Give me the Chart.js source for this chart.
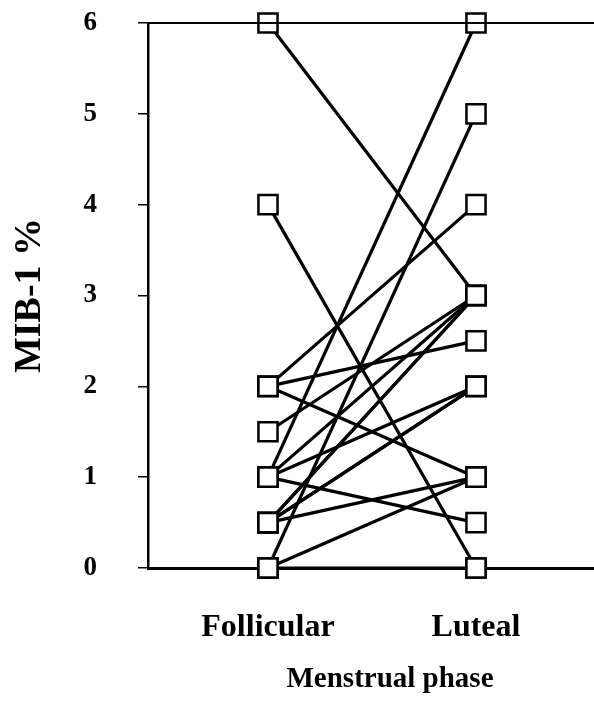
<!DOCTYPE html>
<html>
<head>
<meta charset="utf-8">
<script src="https://cdn.jsdelivr.net/npm/chart.js@4.4.0/dist/chart.umd.min.js"></script>
<style>
    html, body { margin: 0; padding: 0; background: #fff; overflow: hidden; }
    /* the frame runs off the right edge of the picture, so the canvas is wider than the window */
    #wrap { width: 632px; height: 704px; }
</style>
</head>
<body>
<div id="wrap"><canvas id="chart"></canvas></div>
<script>
// phases on the x axis
var phases = ["Follicular", "Luteal"];
// one entry per patient: MIB-1 % in each phase
var follicular = [6, 4, 2, 2, 2, 1.5, 1, 1, 1, 1, 0.5, 0.5, 0.5, 0.5, 0.5, 0, 0, 0];
var luteal     = [3, 0, 4, 2.5, 1, 3, 6, 0.5, 3, 2, 3, 3, 2, 2, 1, 5, 1, 0];
var yTicks = [0, 1, 2, 3, 4, 5, 6];

var serif = "'Liberation Serif', 'Times New Roman', serif";

var datasets = [];
var allPoints = [];
for (var i = 0; i < follicular.length; i++) {
    datasets.push({
        type: 'line',
        data: [{x: 1, y: follicular[i]}, {x: 2, y: luteal[i]}],
        borderColor: '#000',
        borderWidth: 3.2,
        pointRadius: 0,
        fill: false,
        clip: false,
        order: 1
    });
    allPoints.push({x: 1, y: follicular[i]});
    allPoints.push({x: 2, y: luteal[i]});
}
// boxes drawn on top of the lines
datasets.push({
    type: 'scatter',
    data: allPoints,
    pointStyle: 'rect',
    pointRadius: 13.5,
    pointBackgroundColor: '#fff',
    pointBorderColor: '#000',
    pointBorderWidth: 2.5,
    showLine: false,
    clip: false,
    order: 0
});

// top frame line
var topLine = {
    id: 'topLine',
    afterDraw: function (chart) {
        var a = chart.chartArea, ctx = chart.ctx;
        ctx.save();
        ctx.strokeStyle = '#000';
        ctx.lineWidth = 2;
        ctx.beginPath();
        ctx.moveTo(a.left, a.top);
        ctx.lineTo(a.right, a.top);
        ctx.stroke();
        ctx.restore();
    }
};

chartMib = new Chart(document.getElementById("chart"), {
    type: 'line',
    data: { datasets: datasets },
    plugins: [topLine],
    options: {
        responsive: true,
        maintainAspectRatio: false,
        animation: false,
        layout: { autoPadding: false, padding: 0 },
        plugins: {
            legend: { display: false },
            tooltip: { enabled: false }
        },
        scales: {
            x: {
                type: 'linear',
                min: 0.4232,
                max: 2.75,
                afterBuildTicks: function (scale) {
                    scale.ticks = [{value: 1}, {value: 2}];
                },
                afterFit: function (scale) { scale.height = 136; },
                grid: { display: false },
                border: { display: true, color: '#000', width: 3 },
                ticks: {
                    color: '#000',
                    padding: 33,
                    font: { family: serif, size: 32, weight: 'bold' },
                    callback: function (v) { return phases[v - 1]; }
                },
                title: {
                    display: true,
                    text: 'Menstrual phase',
                    color: '#000',
                    padding: { top: 0, bottom: 7 },
                    font: { family: serif, size: 29, weight: 'bold' }
                }
            },
            y: {
                min: 0,
                max: 6,
                afterBuildTicks: function (scale) {
                    scale.ticks = yTicks.map(function (v) { return {value: v}; });
                },
                afterFit: function (scale) {
                    scale.width = 148;
                    scale.paddingTop = 23;
                    scale.paddingBottom = 0;
                },
                grid: {
                    drawOnChartArea: false,
                    drawTicks: true,
                    tickLength: 10,
                    color: '#000',
                    lineWidth: 1.5
                },
                border: { display: true, color: '#000', width: 2.5 },
                ticks: {
                    color: '#000',
                    padding: 41,
                    font: { family: serif, size: 27, weight: 'bold' }
                },
                title: {
                    display: true,
                    text: 'MIB-1 %',
                    color: '#000',
                    padding: { top: 7, bottom: 0 },
                    font: { family: serif, size: 38, weight: 'bold' }
                }
            }
        }
    }
});
</script>
</body>
</html>
